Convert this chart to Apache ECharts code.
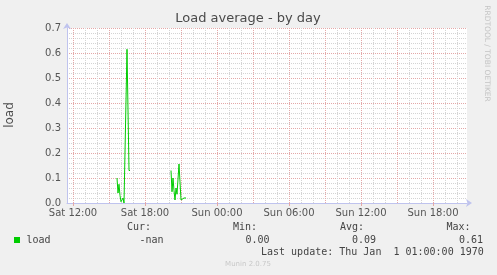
<!DOCTYPE html>
<html>
<head>
<meta charset="utf-8">
<script src="https://cdn.jsdelivr.net/npm/echarts@6/dist/echarts.min.js"></script>
<style>
html,body{margin:0;padding:0;background:#F0F0F0;}
#c{width:497px;height:275px;}
</style>
</head>
<body>
<div id="c"></div>
<script>
// ---- data (times are Saturday-based hours, "HH:MM"; null = gap) ----
const loadTimes = ['15:40','15:45','15:50','15:55','16:00','16:05','16:10','16:15','16:30','16:40','16:45', null,
                   '20:10','20:15','20:20','20:25','20:30','20:35','20:40','20:50','21:00','21:05','21:10','21:15','21:20','21:25'];
const loadValues = [0.10,0.04,0.075,0.03,0.005,0.01,0.02,0.0,0.615,0.13,0.13, null,
                    0.13,0.045,0.10,0.05,0.012,0.06,0.035,0.156,0.012,0.02,0.02,0.02,0.02,0.02];
const xTickHours = [12,18,24,30,36,42];
const yTicks = [0,0.1,0.2,0.3,0.4,0.5,0.6,0.7];
const axisStart = 11.5;          // Sat 11:30
const axisEnd = 11.5 + 400/12;   // 400 px at 5 min / px
const legendHeaders = ['Cur:','Min:','Avg:','Max:'];
const legendValues = ['-nan','0.00','0.09','0.61'];
const seriesName = 'load';
const lastUpdate = 'Last update: Thu Jan  1 01:00:00 1970';
const footer = 'Munin 2.0.75';
const sideText = 'RRDTOOL / TOBI OETIKER';

function hoursOf(t){ const p = t.split(':').map(Number); return p[0] + p[1]/60; }
const seriesData = loadTimes.map((t,i) => t === null ? [null, null] : [hoursOf(t), loadValues[i]]);

function fmtX(v){
  const day = v >= 24 ? 'Sun' : 'Sat';
  const h = Math.round(v) % 24;
  return day + ' ' + (h < 10 ? '0' + h : h) + ':00';
}

const majorColor = '#E4A8A8';
const minorColor = '#D4D4D4';
const axisColor = '#BFC3EE';

const vLines = [];
for (let h = Math.ceil(axisStart); h <= axisEnd; h++) {
  const major = h % 3 === 0;
  vLines.push({xAxis: h, lineStyle: {color: major ? majorColor : minorColor, type: [1,1], width: 1}});
}

const mono = '"DejaVu Sans Mono", monospace';
const sans = '"DejaVu Sans", sans-serif';
const colX = [127, 233, 340, 446.5];
const valX = [139.5, 245.5, 352, 459];

const graphics = [
  {type:'text', left: 0, top: 0, style:{text:'', fill:'#000'}},
  {type:'text', x: 248, y: 19, style:{text:'Load average - by day', font:'13px ' + sans, fill:'#4a4a4a', align:'center', verticalAlign:'middle'}},
  {type:'text', x: 10, y: 115, rotation: Math.PI/2, style:{text:'load', font:'12px ' + sans, fill:'#4a4a4a', align:'center', verticalAlign:'middle'}},
  {type:'text', x: 487, y: 53.5, rotation: -Math.PI/2, style:{text: sideText, font:'7.5px ' + sans, fill:'#C4C4C4', align:'center', verticalAlign:'middle'}},
  {type:'rect', shape:{x:14, y:237, width:6, height:6}, style:{fill:'#00CC00'}},
  {type:'text', x: 26.5, y: 240, style:{text: seriesName, font:'10px ' + mono, fill:'#444', verticalAlign:'middle'}},
  {type:'text', x: 261, y: 252, style:{text: lastUpdate, font:'10px ' + mono, fill:'#444', verticalAlign:'middle'}},
  {type:'text', x: 248, y: 264, style:{text: footer, font:'7px ' + sans, fill:'#C8C8C8', align:'center', verticalAlign:'middle'}}
];
legendHeaders.forEach((t,i) => graphics.push({type:'text', x: colX[i], y: 227.5, style:{text:t, font:'10px ' + mono, fill:'#444', verticalAlign:'middle'}}));
legendValues.forEach((t,i) => graphics.push({type:'text', x: valX[i], y: 240, style:{text:t, font:'10px ' + mono, fill:'#444', verticalAlign:'middle'}}));

const chart = echarts.init(document.getElementById('c'), null, {renderer:'canvas'});
chart.setOption({
  animation: false,
  backgroundColor: '#F0F0F0',
  grid: {left: 67, top: 28, width: 400, height: 175, show: true, backgroundColor: '#FFFFFF', borderWidth: 0, containLabel: false},
  xAxis: {
    type: 'value', min: axisStart, max: axisEnd,
    axisLine: {show: true, lineStyle: {color: axisColor, width: 1}, symbol: ['none','arrow'], symbolSize: [6,6], symbolOffset: [0,5]},
    axisTick: {show: true, customValues: xTickHours, length: 3, inside: false, lineStyle: {color: majorColor}},
    axisLabel: {customValues: xTickHours, formatter: fmtX, color: '#555', fontFamily: 'DejaVu Sans', fontSize: 10, margin: 5},
    splitLine: {show: false}
  },
  yAxis: {
    type: 'value', min: 0, max: 0.7, interval: 0.1,
    axisLine: {show: true, onZero: false, lineStyle: {color: axisColor, width: 1}, symbol: ['none','arrow'], symbolSize: [6,6], symbolOffset: [0,5]},
    axisTick: {show: false},
    axisLabel: {formatter: v => v.toFixed(1), color: '#555', fontFamily: 'DejaVu Sans', fontSize: 10, margin: 6,
                customValues: yTicks},
    splitLine: {show: true, lineStyle: {color: majorColor, type: [1,1], width: 1}},
    minorTick: {show: false, splitNumber: 5},
    minorSplitLine: {show: true, lineStyle: {color: minorColor, type: [1,1], width: 1}}
  },
  series: [
    {type: 'line', data: [], z: 1, silent: true,
     markLine: {silent: true, symbol: ['none','none'], label: {show: false}, animation: false, data: vLines}},
    {type: 'line', name: seriesName, data: seriesData, z: 5, showSymbol: false, connectNulls: false,
     lineStyle: {color: '#00CC00', width: 1}, itemStyle: {color: '#00CC00'}}
  ],
  graphic: graphics
});
</script>
</body>
</html>
